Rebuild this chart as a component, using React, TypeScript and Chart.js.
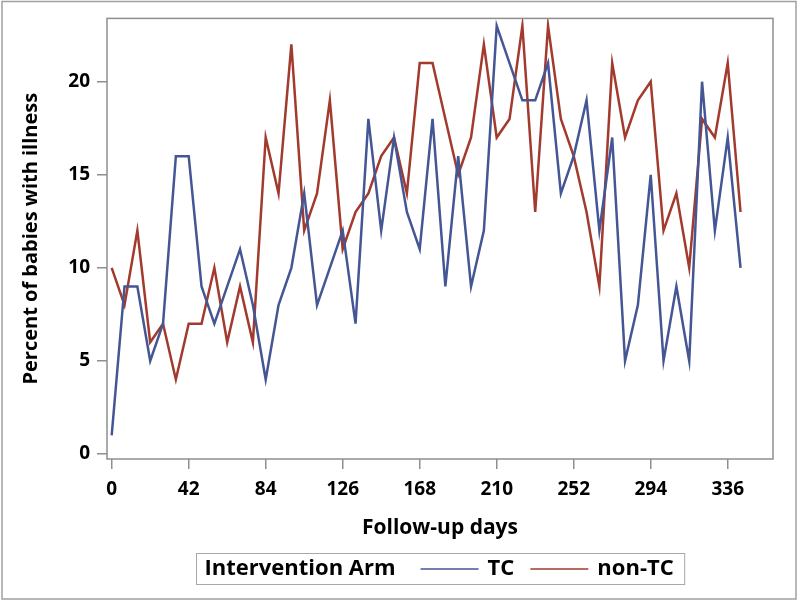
import React, { useEffect, useRef } from "react";
import { Chart, registerables } from "chart.js";

Chart.register(...registerables);

// ---- data ----
const days = [
  0, 7, 14, 21, 28, 35, 42, 49, 56, 63,
  70, 77, 84, 91, 98, 105, 112, 119, 126, 133,
  140, 147, 154, 161, 168, 175, 182, 189, 196, 203,
  210, 217, 224, 231, 238, 245, 252, 259, 266, 273,
  280, 287, 294, 301, 308, 315, 322, 329, 336, 343,
];
const tcValues = [
  1, 9, 9, 5, 7, 16, 16, 9, 7, 9,
  11, 8, 4, 8, 10, 14, 8, 10, 12, 7,
  18, 12, 17, 13, 11, 18, 9, 16, 9, 12,
  23, 21, 19, 19, 21, 14, 16, 19, 12, 17,
  5, 8, 15, 5, 9, 5, 20, 12, 17, 10,
];
const nonTcValues = [
  10, 8, 12, 6, 7, 4, 7, 7, 10, 6,
  9, 6, 17, 14, 22, 12, 14, 19, 11, 13,
  14, 16, 17, 14, 21, 21, 18, 15, 17, 22,
  17, 18, 23, 13, 23, 18, 16, 13, 9, 21,
  17, 19, 20, 12, 14, 10, 18, 17, 21, 13,
];
const xTicks = [0, 42, 84, 126, 168, 210, 252, 294, 336];
const yTicks = [0, 5, 10, 15, 20];
const seriesLabels = ["TC", "non-TC"];
const seriesColors = ["#445694", "#A23A2E"];
const legendTitle = "Intervention Arm";
const xTitle = "Follow-up days";
const yTitle = "Percent of babies with illness";

const FONT = "'Open Sans', 'DejaVu Sans', sans-serif";
const AXIS_GRAY = "#8f8f8f";

const decorPlugin = {
  id: "decor",
  beforeDraw(chart: any) {
    const { ctx, width, height } = chart;
    ctx.save();
    ctx.fillStyle = "#ffffff";
    ctx.fillRect(0, 0, width, height);
    ctx.restore();
  },
  afterDraw(chart: any) {
    const { ctx, chartArea: a } = chart;
    ctx.save();
    // plot frame
    ctx.strokeStyle = AXIS_GRAY;
    ctx.lineWidth = 1.5;
    ctx.strokeRect(a.left, a.top, a.right - a.left, a.bottom - a.top);
    // outer border
    ctx.strokeStyle = "#a0a0a0";
    ctx.lineWidth = 1.5;
    ctx.strokeRect(2, 1.5, 794, 597.5);

    // legend
    const ly = 569;
    const font = `bold 22px ${FONT}`;
    ctx.font = font;
    const titleW = ctx.measureText(legendTitle).width;
    const ds = chart.data.datasets;
    const labelWs = ds.map((d: any) => ctx.measureText(d.label).width);
    const padL = 8, padR = 11, gapTitle = 25, lineLen = 58, gapLine = 9, gapItem = 16;
    let total = padL + titleW + gapTitle + padR;
    labelWs.forEach((w: number, i: number) => {
      total += lineLen + gapLine + w + (i < labelWs.length - 1 ? gapItem : 0);
    });
    const cx = (a.left + a.right) / 2;
    const bx = Math.round(cx - total / 2) + 0.5;
    const by = 553.5;
    const bh = 31;
    ctx.strokeStyle = "#a8a8a8";
    ctx.lineWidth = 1;
    ctx.strokeRect(bx, by, total, bh);
    ctx.fillStyle = "#000";
    ctx.textBaseline = "middle";
    ctx.textAlign = "left";
    let x = bx + padL;
    ctx.fillText(legendTitle, x, ly);
    x += titleW + gapTitle;
    ds.forEach((d: any, i: number) => {
      ctx.strokeStyle = seriesColors[i];
      ctx.lineWidth = 1.6;
      ctx.beginPath();
      ctx.moveTo(x, ly);
      ctx.lineTo(x + lineLen, ly);
      ctx.stroke();
      x += lineLen + gapLine;
      ctx.fillStyle = "#000";
      ctx.fillText(d.label, x, ly);
      x += labelWs[i] + gapItem;
    });
    ctx.restore();
  },
};

export default function App() {
  const canvasRef = useRef<HTMLCanvasElement | null>(null);

  useEffect(() => {
    document.body.style.margin = "0";
    const canvas = canvasRef.current;
    if (!canvas) return;
    const chart = new Chart(canvas, {
      type: "line",
      data: {
        datasets: [
          {
            label: seriesLabels[0],
            data: days.map((d, i) => ({ x: d, y: tcValues[i] })),
            borderColor: seriesColors[0],
            backgroundColor: seriesColors[0],
            borderWidth: 2.5,
            pointRadius: 0,
            tension: 0,
          },
          {
            label: seriesLabels[1],
            data: days.map((d, i) => ({ x: d, y: nonTcValues[i] })),
            borderColor: seriesColors[1],
            backgroundColor: seriesColors[1],
            borderWidth: 2.5,
            pointRadius: 0,
            tension: 0,
          },
        ],
      },
      options: {
        animation: false,
        responsive: false,
        maintainAspectRatio: false,
        layout: { padding: { top: 17, right: 27, left: 0, bottom: 0 } },
        plugins: {
          legend: { display: false },
          tooltip: { enabled: false },
        },
        scales: {
          x: {
            type: "linear",
            position: "bottom",
            min: -2.56,
            max: 360.7,
            afterBuildTicks: (s: any) => {
              s.ticks = xTicks.map((v) => ({ value: v }));
            },
            afterFit: (s: any) => {
              s.height = 143;
            },
            ticks: {
              autoSkip: false,
              maxRotation: 0,
              padding: 9,
              color: "#000",
              font: { family: FONT, size: 19, weight: "bold" },
            },
            grid: {
              display: true,
              drawOnChartArea: false,
              drawTicks: true,
              tickLength: 10,
              color: AXIS_GRAY,
              lineWidth: 1.5,
            },
            border: { display: false },
            title: {
              display: true,
              text: xTitle,
              color: "#000",
              font: { family: FONT, size: 21, weight: "bold" },
              padding: { top: 0, bottom: 61 },
            },
          },
          y: {
            type: "linear",
            min: -0.27,
            max: 23.4,
            afterBuildTicks: (s: any) => {
              s.ticks = yTicks.map((v) => ({ value: v }));
            },
            afterFit: (s: any) => {
              s.width = 107;
            },
            ticks: {
              padding: 7,
              color: "#000",
              font: { family: FONT, size: 19, weight: "bold" },
            },
            grid: {
              display: true,
              drawOnChartArea: false,
              drawTicks: true,
              tickLength: 10,
              color: AXIS_GRAY,
              lineWidth: 1.5,
            },
            border: { display: false },
            title: {
              display: true,
              text: yTitle,
              color: "#000",
              font: { family: FONT, size: 20, weight: "bold" },
              padding: { top: 19, bottom: 0 },
            },
          },
        },
      },
      plugins: [decorPlugin],
    } as any);
    return () => chart.destroy();
  }, []);

  return (
    <div style={{ width: 800, height: 602 }}>
      <canvas ref={canvasRef} width={800} height={602} style={{ display: "block" }} />
    </div>
  );
}
